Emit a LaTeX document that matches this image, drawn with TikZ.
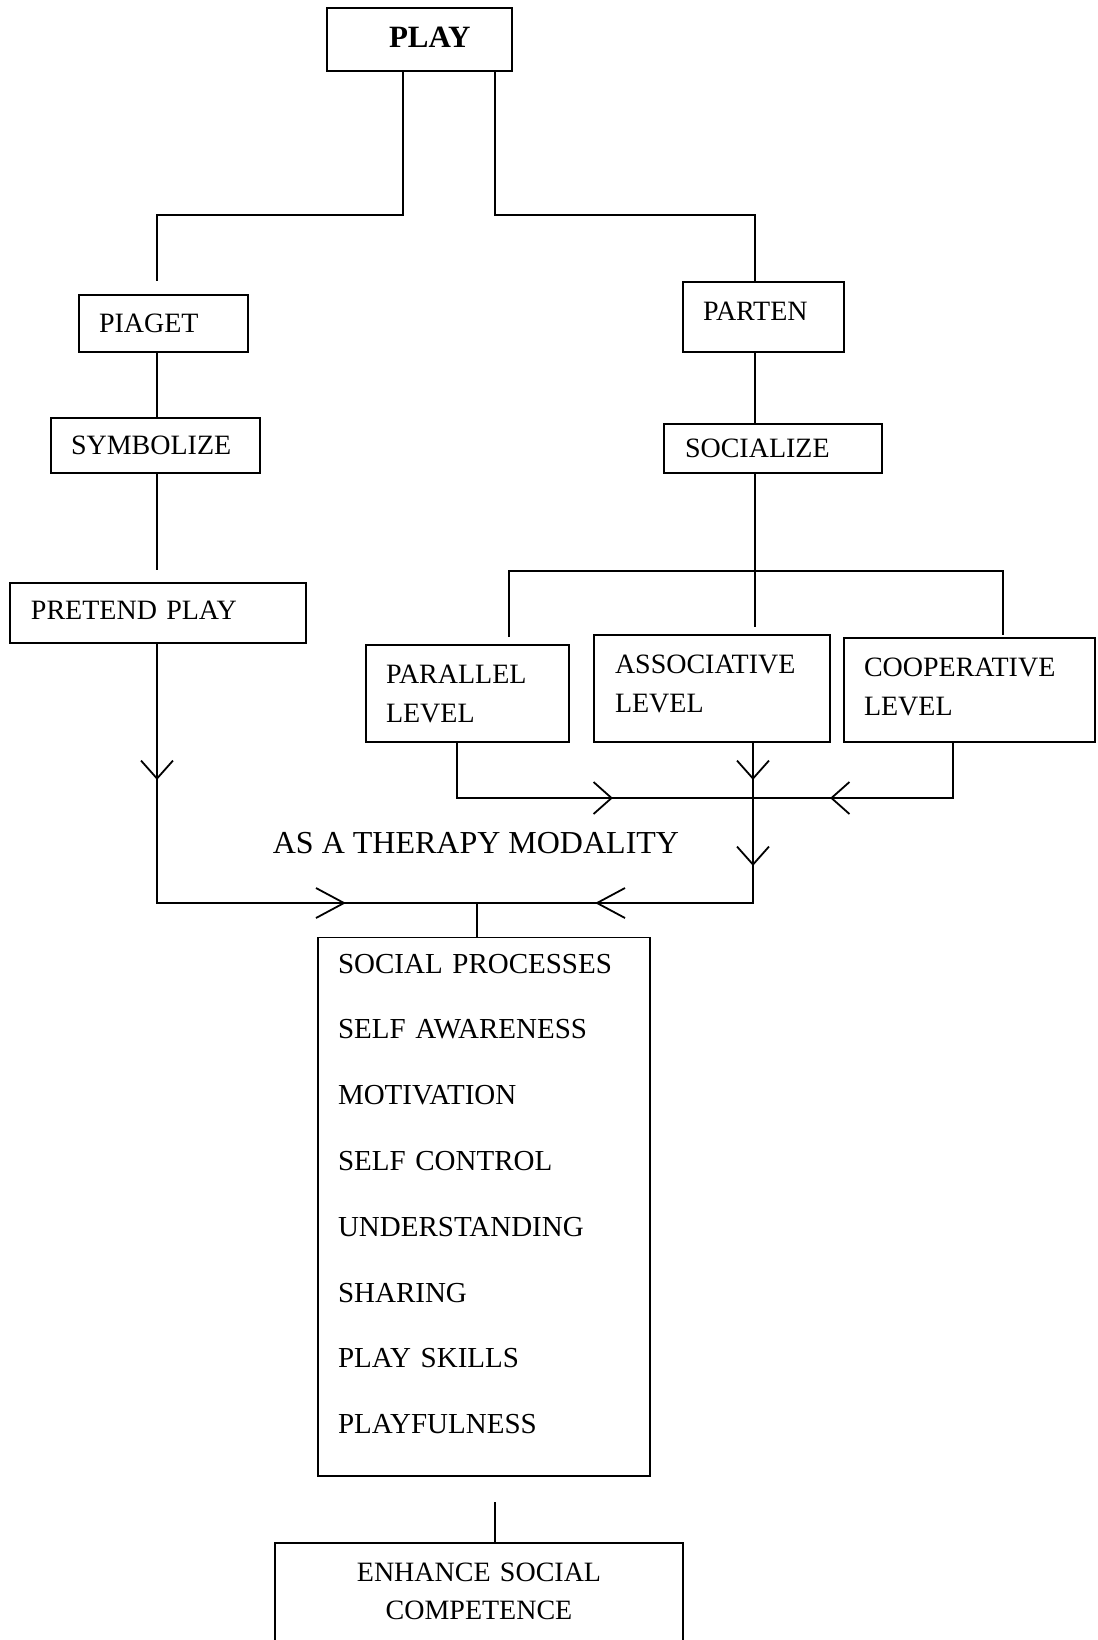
\documentclass[tikz,border=0pt]{standalone}
\usepackage{fontspec}
\setmainfont{Liberation Serif}
\usetikzlibrary{arrows.meta,decorations.markings}

\tikzset{
  box/.style={draw, align=left, inner ysep=0pt, font=\fontsize{14}{19.5}\selectfont},
  arrowat/.style={postaction={decorate,decoration={markings,
      mark=at position #1 with {\arrow{Straight Barb[length=9pt,width=16pt]}}}}},
  longarrowat/.style={postaction={decorate,decoration={markings,
      mark=at position #1 with {\arrow{Straight Barb[length=14pt,width=15pt]}}}}},
}

\begin{document}
\begin{tikzpicture}[x=0.5pt,y=-0.5pt,line width=0.9pt]
\useasboundingbox (0,0) rectangle (1098,1640);
\clip (0,0) rectangle (1098,1640);
\node[box,minimum height=31.5pt,text width=30.5pt,inner xsep=31pt,line width=1.2pt,
  font=\fontsize{15.5}{19}\selectfont\bfseries] (play) at (419.5,39.5) {PLAY\rule[-2pt]{0pt}{0pt}};
\node[box,minimum height=28.5pt,text width=64.5pt,inner xsep=10pt] (piaget) at (163.5,323.5) {PIAGET};
\node[box,minimum height=35pt,text width=60.5pt,inner xsep=10pt] (parten) at (763.5,317) {PARTEN\rule[-6pt]{0pt}{0pt}};
\node[box,minimum height=27.5pt,text width=84.5pt,inner xsep=10pt] (symbolize) at (155.5,445.5) {SYMBOLIZE};
\node[box,minimum height=24.5pt,text width=88pt,inner xsep=10.5pt] (socialize) at (773,448.5) {SOCIALIZE};
\node[box,minimum height=30pt,text width=127pt,inner xsep=10.5pt] (pretend) at (158,613) {PRETEND PLAY\rule[-3pt]{0pt}{0pt}};
\node[box,minimum height=48.5pt,text width=81.5pt,inner xsep=10pt] (parallel) at (467.5,693.5) {PARALLEL\\LEVEL};
\node[box,minimum height=53.5pt,text width=97pt,inner xsep=10.5pt] (associative) at (712,688.5) {ASSOCIATIVE\\LEVEL\rule[-5pt]{0pt}{0pt}};
\node[box,minimum height=52pt,text width=105.5pt,inner xsep=10pt] (cooperative) at (969.5,690) {COOPERATIVE\\LEVEL\rule[-3pt]{0pt}{0pt}};
\node[font=\fontsize{16}{19}\selectfont] (therapy) at (476,843) {AS A THERAPY MODALITY};
\node[box,minimum height=268.5pt,text width=146pt,inner xsep=10pt,inner ysep=8.2pt,
  font=\fontsize{14.5}{32.9}\selectfont] (social) at (484,1206.5)
  {SOCIAL PROCESSES\\SELF AWARENESS\\MOTIVATION\\SELF CONTROL\\UNDERSTANDING\\SHARING\\PLAY SKILLS\\PLAYFULNESS\rule[-12.8pt]{0pt}{0pt}};
\node[box,anchor=north,align=center,text width=184pt,inner xsep=10pt,inner ysep=10pt,
  font=\fontsize{14}{19}\selectfont] (enhance) at (479,1542) {ENHANCE SOCIAL\\COMPETENCE\rule[-15pt]{0pt}{0pt}};

% junctions
\coordinate (jl) at (157,215);
\coordinate (jr) at (755,215);
\coordinate (bl) at (509,571);
\coordinate (br) at (1003,571);
\coordinate (pj) at (457,798);
\coordinate (cj) at (953,798);
\coordinate (hj) at (753,798);
\coordinate (am) at (753,903);
\coordinate (mid) at (477,903);
\coordinate (low) at (495,1502);

\draw ([xshift=-8.25pt]play.south) |- (jl) -- ([yshift=6.5pt]piaget.north -| jl);
\draw ([xshift=37.75pt]play.south) |- (jr) -- (parten.north -| jr);
\draw (piaget.south -| jl) -- (symbolize.north -| jl);
\draw (symbolize.south -| jl) -- ([yshift=6pt]pretend.north -| jl);
\draw (parten.south -| jr) -- (socialize.north -| jr);
\draw (socialize.south -| jr) -- ([yshift=3.5pt]associative.north -| jr);
\draw ([yshift=3.5pt]parallel.north -| bl) |- (br) -- ([yshift=1pt]cooperative.north -| br);
\draw[arrowat=105.5pt] (parallel.south -| pj) |- (hj);
\draw[arrowat=89pt] (cooperative.south -| cj) |- (hj);
\draw[arrowat=18.5pt,arrowat=61.5pt,longarrowat=159pt] (associative.south -| am) |- (mid);
\draw[arrowat=68pt,longarrowat=224pt] (pretend.south -| jl) |- (mid);
\draw (mid) -- (social.north -| mid);
\draw (low) -- (enhance.north -| low);
\end{tikzpicture}
\end{document}
